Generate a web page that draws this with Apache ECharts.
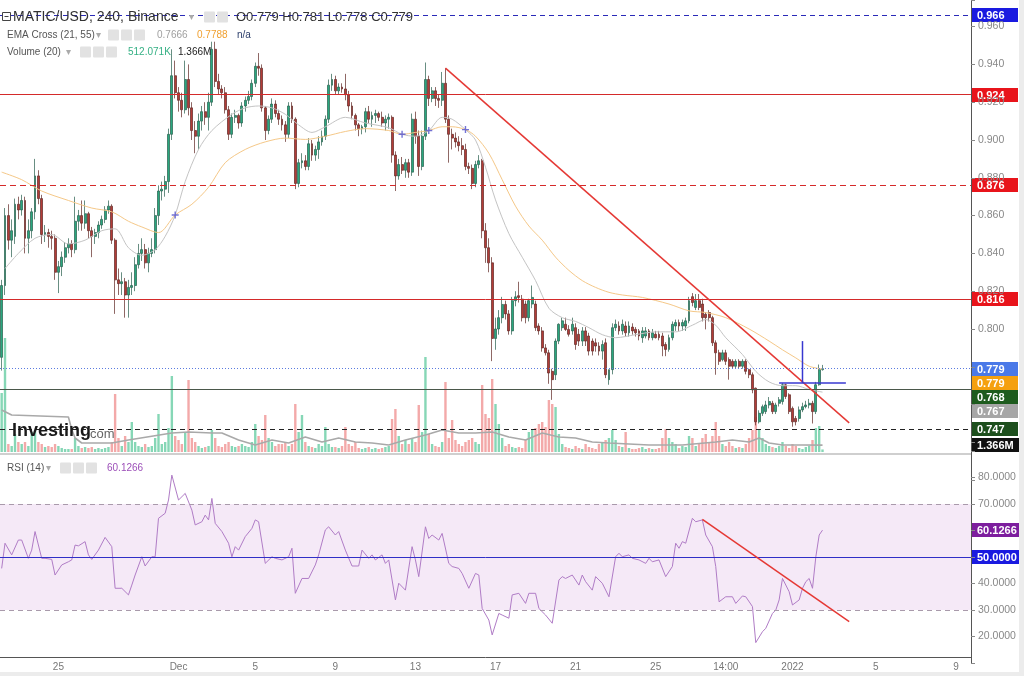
<!DOCTYPE html>
<html><head><meta charset="utf-8">
<script src="https://cdn.jsdelivr.net/npm/echarts@6/dist/echarts.min.js"></script>
<style>html,body{margin:0;padding:0;background:#fff}#c{width:1024px;height:676px}</style>
</head><body><div id="c"></div>
<script>
// ---------- DATA ----------
// 4h candles, [open, high, low, close]
const candleOHLC = [
[.785,.826,.778,.823],[.823,.864,.818,.860],[.860,.866,.842,.847],[.847,.858,.838,.852],[.849,.869,.845,.866],
[.866,.870,.858,.863],[.863,.871,.860,.868],[.868,.870,.840,.848],[.848,.858,.840,.852],[.852,.864,.848,.862],
[.862,.890,.858,.881],[.881,.884,.866,.869],[.869,.871,.845,.850],[.850,.855,.846,.851],[.851,.853,.843,.849],
[.849,.852,.842,.848],[.848,.850,.826,.830],[.830,.836,.819,.833],[.833,.841,.828,.838],[.838,.846,.835,.843],
[.843,.848,.840,.845],[.845,.847,.838,.842],[.842,.870,.840,.857],[.857,.863,.852,.860],[.860,.868,.852,.856],
[.856,.868,.853,.861],[.861,.862,.848,.852],[.852,.854,.838,.849],[.849,.853,.845,.851],[.851,.857,.848,.855],
[.855,.860,.853,.858],[.858,.865,.856,.863],[.863,.868,.861,.865],[.865,.866,.845,.847],[.847,.848,.808,.826],
[.826,.832,.818,.824],[.824,.830,.818,.825],[.825,.827,.806,.818],[.818,.826,.806,.822],[.822,.830,.818,.823],
[.823,.838,.820,.834],[.834,.845,.832,.840],[.840,.848,.836,.842],[.842,.845,.832,.835],[.835,.843,.830,.840],
[.840,.848,.838,.842],[.842,.864,.840,.860],[.860,.876,.855,.873],[.873,.878,.868,.874],[.874,.881,.870,.878],
[.878,.906,.872,.903],[.903,.948,.900,.934],[.934,.942,.922,.925],[.925,.928,.915,.921],[.921,.925,.912,.916],
[.916,.942,.914,.932],[.932,.940,.913,.917],[.917,.920,.900,.905],[.905,.910,.893,.902],[.902,.914,.895,.910],
[.910,.918,.905,.915],[.915,.920,.908,.912],[.912,.925,.905,.920],[.920,.952,.918,.948],[.948,.952,.928,.931],
[.931,.935,.924,.927],[.927,.929,.922,.925],[.925,.928,.914,.916],[.916,.918,.900,.903],[.903,.914,.901,.912],
[.912,.916,.909,.913],[.913,.914,.906,.909],[.909,.920,.907,.918],[.918,.923,.915,.921],[.921,.926,.919,.923],
[.923,.932,.921,.930],[.930,.941,.928,.939],[.939,.946,.934,.938],[.938,.940,.915,.917],[.917,.918,.900,.905],
[.905,.913,.903,.911],[.911,.922,.909,.919],[.919,.921,.912,.914],[.914,.916,.908,.911],[.911,.913,.905,.908],
[.908,.910,.899,.903],[.903,.920,.901,.918],[.918,.920,.909,.911],[.911,.912,.874,.877],[.877,.890,.875,.888],
[.888,.893,.885,.889],[.889,.892,.884,.886],[.886,.901,.884,.898],[.898,.900,.889,.892],[.892,.897,.889,.895],
[.895,.902,.890,.899],[.899,.905,.897,.902],[.902,.913,.900,.911],[.911,.932,.909,.929],[.929,.935,.926,.932],
[.932,.934,.924,.926],[.926,.930,.924,.928],[.928,.930,.925,.927],[.927,.935,.921,.924],[.924,.926,.915,.918],
[.918,.920,.911,.913],[.913,.914,.905,.908],[.908,.909,.902,.906],[.906,.908,.903,.907],[.907,.917,.904,.915],
[.915,.918,.909,.911],[.911,.915,.907,.913],[.913,.916,.909,.914],[.914,.915,.910,.912],[.912,.915,.907,.909],
[.909,.913,.905,.911],[.911,.914,.906,.912],[.912,.913,.888,.892],[.892,.894,.873,.881],[.881,.890,.879,.887],
[.887,.891,.882,.884],[.884,.890,.880,.888],[.888,.890,.880,.883],[.883,.914,.881,.911],[.911,.915,.898,.902],
[.902,.905,.881,.886],[.886,.905,.884,.902],[.902,.941,.900,.932],[.932,.934,.918,.922],[.922,.928,.920,.926],
[.926,.928,.918,.922],[.922,.924,.917,.921],[.921,.936,.918,.930],[.930,.938,.909,.911],[.911,.913,.888,.903],
[.903,.906,.895,.901],[.901,.904,.896,.899],[.899,.902,.894,.897],[.897,.901,.892,.895],[.895,.898,.884,.886],
[.886,.888,.882,.885],[.885,.887,.874,.877],[.877,.889,.875,.887],[.887,.892,.885,.889],[.889,.890,.848,.852],
[.852,.856,.835,.843],[.843,.848,.830,.835],[.835,.838,.783,.795],[.795,.806,.789,.800],[.800,.810,.797,.806],
[.806,.817,.803,.813],[.813,.815,.805,.808],[.808,.810,.797,.799],[.799,.817,.797,.815],[.815,.820,.812,.817],
[.8176,.825,.814,.8167],[.8158,.818,.804,.806],[.8132,.815,.803,.806],[.806,.816,.804,.815],[.8132,.823,.811,.8167],
[.8132,.815,.799,.8007],[.8016,.803,.797,.799],[.799,.801,.788,.790],[.790,.792,.786,.7874],[.7874,.789,.771,.7767],
[.7776,.779,.7625,.7732],[.7758,.795,.773,.7936],[.7936,.803,.792,.8025],[.8007,.806,.799,.8043],[.8025,.806,.799,.7998],
[.7998,.802,.796,.7972],[.7990,.806,.797,.8025],[.8007,.803,.789,.7918],[.7972,.800,.791,.7936],[.7936,.801,.791,.799],
[.799,.801,.791,.7936],[.7963,.798,.786,.7883],[.7936,.795,.786,.7883],[.7927,.795,.788,.791],[.791,.793,.786,.7883],
[.7883,.794,.7838,.7918],[.7927,.795,.774,.7758],[.7732,.7785,.7705,.7785],[.7785,.803,.776,.8007],[.8007,.805,.799,.8025],
[.8016,.804,.797,.799],[.799,.805,.797,.8025],[.8016,.804,.796,.798],[.798,.804,.796,.8016],[.801,.803,.797,.799],
[.7998,.801,.796,.798],[.799,.800,.794,.7963],[.7954,.801,.7927,.799],[.7963,.801,.795,.799],[.799,.800,.794,.7954],
[.7954,.800,.794,.798],[.7972,.799,.795,.7954],[.7972,.799,.794,.7954],[.7963,.798,.7856,.791],[.7918,.793,.7856,.7892],
[.7892,.797,.788,.7954],[.7954,.804,.794,.8025],[.8016,.805,.799,.8034],[.8034,.805,.799,.8016],[.8016,.805,.799,.8034],
[.8016,.806,.799,.8043],[.8043,.817,.803,.815],[.8171,.819,.812,.814],[.8114,.8185,.810,.815],[.815,.8185,.810,.8114],
[.8132,.816,.804,.806],[.8078,.809,.7998,.806],[.8087,.810,.804,.806],[.806,.807,.791,.7927],[.7927,.794,.7758,.7874],
[.7874,.789,.781,.7829],[.7838,.789,.7829,.7874],[.7874,.789,.781,.7829],[.7838,.785,.7732,.7803],[.7829,.784,.779,.7803],
[.7803,.784,.779,.7829],[.7829,.784,.779,.7803],[.7803,.784,.779,.7829],[.7829,.784,.776,.7776],[.7785,.779,.774,.7758],
[.7758,.777,.766,.7678],[.7687,.769,.749,.7509],[.7509,.757,.750,.7554],[.7554,.760,.754,.7589],[.7563,.762,.755,.7598],
[.7598,.764,.758,.7616],[.7607,.762,.755,.7563],[.7563,.761,.755,.7598],[.7607,.764,.759,.7625],[.7616,.7714,.760,.7705],
[.7705,.771,.763,.7643],[.7652,.766,.755,.7563],[.758,.759,.7483,.7509],[.7527,.754,.749,.7509],[.7527,.759,.751,.7572],
[.7572,.761,.756,.7589],[.7589,.762,.758,.7598],[.7598,.763,.758,.7607],[.7607,.762,.750,.7563],[.7563,.772,.755,.7705],
[.7705,.7812,.770,.7785],[.7785,.781,.778,.779]
];
// volume per candle (millions)
const volumes = [
11.8,22.8,1.6,1.2,3.6,2.0,1.6,2.0,1.2,4.0, 4.4,2.0,1.6,1.0,1.2,1.0,1.6,1.2,0.8,0.6,
0.6,0.6,2.8,1.2,0.8,1.0,0.8,1.0,0.6,0.8, 0.6,0.8,1.0,2.0,11.6,2.8,1.2,3.2,2.0,6.0,
2.0,1.2,1.0,1.6,1.0,1.2,2.8,7.6,1.6,2.0, 4.8,15.2,3.2,2.4,1.6,4.0,14.4,2.8,2.0,1.2,
0.8,1.0,1.2,4.4,2.8,1.2,1.0,1.6,2.0,1.2, 1.0,1.2,1.6,1.2,1.0,2.0,5.6,3.2,2.4,7.4,
2.8,2.0,1.2,1.6,1.6,2.0,1.2,1.6,9.6,4.0, 7.4,2.0,1.2,1.0,0.8,1.6,1.2,5.0,1.6,1.0,
1.0,0.8,1.2,5.0,1.6,1.2,2.0,0.8,0.6,0.8, 1.0,0.6,0.8,0.6,0.8,1.0,1.2,6.6,8.6,3.2,
1.6,2.4,1.6,2.8,2.0,9.4,4.0,19.0,3.6,1.6, 1.2,1.0,2.0,14.0,2.8,6.4,2.4,1.6,1.2,2.0,
2.4,2.8,2.0,1.6,13.4,7.6,6.8,14.6,9.6,5.6, 2.8,1.2,1.6,1.0,0.8,1.0,0.8,2.4,4.0,4.4,
4.8,5.6,6.0,5.0,10.4,9.6,9.0,3.6,1.6,1.0, 0.8,0.6,1.2,0.8,0.6,1.6,1.0,0.8,0.6,1.6,
2.0,2.4,2.8,4.4,2.4,1.2,1.0,4.0,0.8,0.6, 0.6,0.8,1.0,0.6,0.8,0.6,0.6,0.8,2.8,4.6,
2.8,2.0,1.6,0.8,1.2,1.0,3.2,2.8,1.2,1.6, 2.8,3.6,2.0,3.2,6.0,3.2,1.6,1.2,2.0,1.2,
0.8,1.0,0.8,1.6,2.8,4.4,7.0,4.4,2.8,1.6, 1.2,1.0,0.8,1.2,2.0,1.2,0.8,1.6,1.2,0.8,
0.6,1.0,1.2,2.4,4.8,5.2,0.51
];
// EMA(21) and EMA(55), read at sample candles: [candle index, price]
const ema21Pts = [[1,.832],[5,.840],[10,.848],[15,.850],[20,.845],[25,.847],[30,.852],[34,.853],[38,.843],[42,.839],[46,.842],[49,.849],[52,.8603],[55,.878],[59,.895],[63,.905],[69,.9136],[73,.917],[77,.918],[81,.917],[85,.9136],[89,.908],[93,.904],[97,.907],[103,.912],[109,.909],[116,.9065],[120,.903],[124,.902],[128,.905],[132,.912],[135,.911],[139,.9055],[142,.900],[145,.8856],[148,.8683],[152,.8505],[156,.838],[160,.8256],[164,.811],[168,.806],[172,.804],[176,.8007],[180,.797],[184,.7954],[190,.797],[196,.7985],[202,.7985],[207,.802],[211,.805],[214,.802],[217,.7954],[222,.7865],[226,.7776],[230,.772],[234,.770],[238,.770],[242,.768],[246,.7666]];
const ema55Pts = [[0,.883],[6,.879],[12,.873],[20,.868],[27,.864],[33,.862],[38,.857],[42,.854],[47,.851],[52,.8603],[57,.866],[62,.875],[67,.888],[73,.895],[79,.899],[85,.901],[91,.9003],[97,.902],[103,.9045],[109,.906],[116,.905],[120,.903],[124,.904],[128,.905],[132,.907],[135,.907],[139,.9055],[142,.902],[146,.893],[150,.879],[154,.865],[158,.8545],[162,.847],[166,.838],[170,.831],[174,.8256],[178,.822],[182,.8194],[186,.818],[192,.8167],[200,.8132],[206,.8096],[211,.8087],[217,.806],[224,.800],[230,.7936],[234,.789],[238,.7847],[242,.7803],[246,.7788]];
const emaCrossPts = [[52,.8603],[120,.903],[128,.905],[139,.9055]];
// Volume MA(20), millions
const volMAPts = [[0,8.4],[3,7.4],[20,7.0],[21,4.5],[22,2.8],[24,1.8],[33,1.8],[38,2.4],[51,3.8],[56,4.0],[63,3.8],[66,3.8],[71,2.4],[76,1.4],[81,2.4],[86,1.8],[91,3.0],[96,2.0],[101,2.8],[106,2.0],[111,1.8],[116,1.4],[121,2.4],[127,3.4],[132,4.4],[137,3.8],[142,3.8],[147,4.0],[152,3.0],[157,2.4],[162,3.8],[167,3.0],[172,2.8],[177,2.0],[182,1.8],[194,1.4],[204,1.4],[214,2.0],[219,2.4],[224,2.0],[227,2.8],[230,1.8],[234,1.4],[240,1.4],[246,1.366]];
// RSI(14): [candle index, value]
const rsiPts = [[0,45.7],[1,55.2],[3,50.8],[5,56.4],[6,56.4],[8,49.5],[9,52.6],[10,59.6],[12,49.5],[13,49.5],[15,49.1],[16,43.2],[18,47.0],[20,48.2],[21,48.9],[22,54.5],[23,54.2],[25,55.8],[26,50.8],[27,49.1],[29,52.6],[31,57.4],[33,53.9],[34,38.2],[36,38.2],[38,35.7],[39,39.4],[40,43.2],[42,50.1],[43,46.6],[45,50.1],[46,50.1],[47,64.6],[49,66.5],[50,71.5],[51,80.9],[53,71.5],[55,74.0],[57,67.7],[58,62.1],[60,63.3],[61,65.8],[62,64.0],[63,72.1],[64,62.7],[66,59.6],[68,55.2],[69,50.1],[70,53.9],[71,52.6],[73,57.7],[75,60.8],[76,64.0],[77,63.3],[79,47.6],[81,50.1],[82,49.5],[84,48.9],[86,50.1],[87,53.3],[88,36.3],[90,41.9],[92,41.9],[94,47.0],[95,50.8],[97,60.2],[98,61.4],[100,58.3],[101,59.6],[103,52.6],[105,46.6],[107,46.6],[108,52.6],[110,49.5],[111,50.8],[112,48.9],[114,50.8],[115,47.6],[116,48.9],[118,33.8],[119,40.1],[121,37.5],[123,53.9],[124,48.9],[125,42.6],[127,61.4],[128,57.0],[129,58.3],[131,56.4],[132,58.9],[134,47.6],[135,46.4],[137,45.7],[138,43.8],[140,38.2],[142,43.8],[143,43.2],[144,30.6],[146,26.2],[147,20.6],[149,28.7],[150,28.1],[152,26.9],[153,35.7],[155,36.3],[157,32.5],[158,36.3],[160,36.3],[161,30.6],[163,28.1],[165,25.0],[167,41.3],[168,42.6],[169,41.9],[171,43.2],[173,39.4],[174,43.2],[175,40.7],[177,37.5],[178,42.6],[180,40.1],[182,35.0],[184,50.1],[185,51.4],[186,50.1],[188,50.8],[189,49.5],[191,48.9],[193,47.6],[194,49.5],[195,48.2],[197,48.9],[199,42.6],[201,46.4],[202,55.2],[203,53.3],[204,55.8],[205,55.2],[207,64.6],[208,63.3],[210,64.0],[211,58.3],[213,53.9],[214,46.4],[215,33.1],[217,35.0],[219,35.0],[220,32.5],[222,35.3],[223,35.0],[225,31.3],[226,17.7],[228,21.8],[229,23.1],[231,28.7],[232,30.0],[233,33.8],[234,41.9],[236,36.9],[237,31.9],[239,33.8],[240,38.2],[241,40.7],[242,41.9],[243,38.2],[244,50.1],[245,58.3],[246,60.1266]];
// drawings
const trendMain = [[133,.938],[254,.7503]];
const trendRSI = [[210,64.2],[254,25.6]];
const blueVert = [[240,.7714],[240,.7936]];
const blueHoriz = [[233,.7714],[253,.7714]];
// horizontal levels
const levelBlue = 0.966, levelRed1 = 0.924, levelRedDash = 0.876, levelRed2 = 0.816;
const lastPrice = 0.779, levelGreen = 0.768, levelBlack = 0.747;
const ema21Last = 0.7666, ema55Last = 0.7788, volMALast = 1.366, rsiLast = 60.1266;
// x-axis tick labels
const tickIdx = [17,53,76,100,124,148,172,196,217,237,262,286];
const tickText = ['25','Dec','5','9','13','17','21','25','14:00','2022','5','9'];
const nCats = 291;
const startMs = Date.UTC(2021,10,22,4);
const categories = Array.from({length:nCats},(_,i)=>new Date(startMs+i*4*3600e3).toISOString().slice(0,13));

// ---------- CHART ----------
const FONT = 'Liberation Sans, Arial, sans-serif';
const chart = echarts.init(document.getElementById('c'));
const hl = (v,color,type,w) => ({yAxis:v, lineStyle:{color, type, width:w||1}});
const tickFn = i => tickIdx.indexOf(i) >= 0;

const option = {
  animation:false, backgroundColor:'#fff',
  grid:[
    {left:0, top:0, width:971, height:480.2},
    {left:0, top:252, width:971, height:200},
    {left:0, top:451, width:971, height:212}
  ],
  xAxis:[
    {type:'category', gridIndex:0, data:categories, show:false},
    {type:'category', gridIndex:1, data:categories, show:false},
    {type:'category', gridIndex:2, data:categories, offset:-6,
      axisLine:{lineStyle:{color:'#555'}},
      axisTick:{interval:tickFn, alignWithLabel:true, length:4, lineStyle:{color:'#777'}},
      axisLabel:{interval:tickFn, formatter:(v,i)=>tickText[tickIdx.indexOf(i)], color:'#777', fontSize:10, margin:5, fontFamily:FONT},
      splitLine:{show:false}}
  ],
  yAxis:[
    {type:'value', gridIndex:0, position:'right', min:0.72, max:0.97407, interval:0.02,
      axisLine:{show:true, lineStyle:{color:'#555'}}, axisTick:{show:true, length:4, lineStyle:{color:'#888'}},
      splitLine:{show:false},
      axisLabel:{formatter:v=>(v>0.79 && v<0.965)?v.toFixed(3):'', color:'#888', fontSize:10.5, margin:7, fontFamily:FONT}},
    {type:'value', gridIndex:1, min:0, max:40, show:false},
    {type:'value', gridIndex:2, position:'right', min:10, max:90, interval:10,
      axisLine:{show:true, lineStyle:{color:'#555'}}, axisTick:{show:true, length:4, lineStyle:{color:'#888'}},
      splitLine:{show:false},
      axisLabel:{formatter:v=>{const r=Math.round(v);return (r>=20&&r<=80&&r!==50&&r!==60)?r.toFixed(4):'';}, color:'#888', fontSize:10.5, margin:7, fontFamily:FONT}}
  ],
  series:[
    {type:'bar', xAxisIndex:1, yAxisIndex:1, barWidth:2.4, z:1,
      data:volumes.map((v,i)=>({value:v, itemStyle:{color: candleOHLC[i][3]>=candleOHLC[i][0] ? '#86d7b6' : '#f3a9a9'}}))},
    {type:'line', xAxisIndex:1, yAxisIndex:1, data:volMAPts, symbol:'none', z:2,
      lineStyle:{color:'#a9a9a9', width:1.6}},
    {type:'candlestick', xAxisIndex:0, yAxisIndex:0, barWidth:2.4, z:3,
      data:candleOHLC.map(d=>[d[0],d[3],d[2],d[1]]),
      itemStyle:{color:'#2aa77f', color0:'#b23c38', borderColor:'#275d4c', borderColor0:'#5f2623', borderWidth:0.7},
      markLine:{silent:true, symbol:'none', precision:4, label:{show:false}, animation:false,
        data:[
          hl(levelBlue,'#2a2ab8',[5,4]),
          hl(levelRed1,'#d42a2a','solid'),
          hl(levelRedDash,'#d42a2a',[6,4]),
          hl(levelRed2,'#d42a2a','solid'),
          hl(lastPrice,'#5b7be0',[1,2]),
          hl(levelGreen,'#4a574a','solid',1.2),
          hl(levelBlack,'#222',[5,4])
        ]}},
    {type:'line', xAxisIndex:0, yAxisIndex:0, data:ema21Pts, symbol:'none', smooth:0.3, z:4,
      lineStyle:{color:'#c4c4c4', width:1}},
    {type:'line', xAxisIndex:0, yAxisIndex:0, data:ema55Pts, symbol:'none', smooth:0.3, z:4,
      lineStyle:{color:'#f5c888', width:1}},
    {type:'scatter', xAxisIndex:0, yAxisIndex:0, data:emaCrossPts, z:6, symbolSize:7,
      symbol:'path://M4,0L6,0L6,4L10,4L10,6L6,6L6,10L4,10L4,6L0,6L0,4L4,4Z',
      itemStyle:{color:'#5a5ad0', opacity:0.85}},
    {type:'line', xAxisIndex:0, yAxisIndex:0, data:trendMain, symbol:'none', z:5,
      lineStyle:{color:'#e53935', width:1.5}},
    {type:'line', xAxisIndex:0, yAxisIndex:0, data:blueVert, symbol:'none', z:5,
      lineStyle:{color:'#3838d0', width:1.5}},
    {type:'line', xAxisIndex:0, yAxisIndex:0, data:blueHoriz, symbol:'none', z:5,
      lineStyle:{color:'#3838d0', width:1.5}},
    {type:'line', xAxisIndex:2, yAxisIndex:2, data:rsiPts, symbol:'none', z:4,
      lineStyle:{color:'#b07cc6', width:1},
      markArea:{silent:true, itemStyle:{color:'rgba(156,39,176,0.1)'}, data:[[{yAxis:30},{yAxis:70}]]},
      markLine:{silent:true, symbol:'none', precision:4, label:{show:false},
        data:[hl(70,'#a99aab',[5,4]), hl(30,'#a99aab',[5,4]), hl(50,'#2f2fc7','solid')]}},
    {type:'line', xAxisIndex:2, yAxisIndex:2, data:trendRSI, symbol:'none', z:5,
      lineStyle:{color:'#e53935', width:1.5}}
  ]
};
chart.setOption(option);

// ---------- ANNOTATIONS ----------
const py = v => chart.convertToPixel({yAxisIndex:0}, v);
const vy = v => chart.convertToPixel({yAxisIndex:1}, v);
const ry = v => chart.convertToPixel({yAxisIndex:2}, v);
function tag(text, y, bg, w){
  return {type:'group', x:972, y:Math.round(y-7), z:100, children:[
    {type:'rect', shape:{x:0,y:0,width:w||46,height:14}, style:{fill:bg}},
    {type:'text', x:5, y:7.5, style:{text, fill:'#fff', font:'bold 11px '+FONT, verticalAlign:'middle'}}
  ]};
}
const stackTags = [
  {t:lastPrice.toFixed(3), y:py(lastPrice), bg:'#4a79e8'},
  {t:ema55Last.toFixed(3), y:py(ema55Last), bg:'#f5a00f'},
  {t:levelGreen.toFixed(3), y:py(levelGreen), bg:'#1d5b1d'},
  {t:ema21Last.toFixed(3), y:py(ema21Last), bg:'#a6a6a6'},
  {t:levelBlack.toFixed(3), y:py(levelBlack), bg:'#1d4f1d'},
  {t:volMALast.toFixed(3)+'M', y:vy(volMALast), bg:'#111', w:47}
];
let prev = -1e9;
const graphics = [];
stackTags.forEach(s=>{ const y = Math.max(s.y, prev+14); prev = y; graphics.push(tag(s.t, y, s.bg, s.w)); });
graphics.push(tag(levelBlue.toFixed(3), py(levelBlue), '#1a1ae0'));
graphics.push(tag(levelRed1.toFixed(3), py(levelRed1), '#e8141b'));
graphics.push(tag(levelRedDash.toFixed(3), py(levelRedDash), '#e8141b'));
graphics.push(tag(levelRed2.toFixed(3), py(levelRed2), '#e8141b'));
graphics.push(tag(rsiLast.toFixed(4), ry(rsiLast), '#7d1e9e', 47));
graphics.push(tag((50).toFixed(4), ry(50), '#1a1ae0', 47));

const txt = (x,y,text,font,fill) => ({type:'text', x, y, z:100, style:{text, font:font+' '+FONT, fill, verticalAlign:'middle'}});
const icon = (x,y) => ({type:'rect', z:100, shape:{x, y:y-5.5, width:11, height:11, r:1}, style:{fill:'#e2e2e2'}});
graphics.push(
  {type:'rect', z:100, shape:{x:2.5,y:12.5,width:8,height:8}, style:{fill:'#fff', stroke:'#444', lineWidth:1}},
  {type:'line', z:100, shape:{x1:4.5,y1:16.5,x2:8.5,y2:16.5}, style:{stroke:'#444', lineWidth:1}},
  txt(13,17,'MATIC/USD, 240, Binance','14px','#333'),
  txt(189,17,'▾','10px','#aaa'), icon(204,17), icon(217,17),
  txt(236,17,'O0.779 H0.781 L0.778 C0.779','13px','#333'),
  txt(7,35,'EMA Cross (21, 55)','10px','#555'), txt(96,35,'▾','10px','#aaa'),
  icon(108,35), icon(121,35), icon(134,35),
  txt(157,35,'0.7666','10px','#a0a0a0'), txt(197,35,'0.7788','10px','#f0a030'), txt(237,35,'n/a','10px','#2c3e6b'),
  txt(7,52,'Volume (20)','10px','#555'), txt(66,52,'▾','10px','#aaa'),
  icon(80,52), icon(93,52), icon(106,52),
  txt(128,52,'512.071K','10px','#35b084'), txt(178,52,'1.366M','10px','#222'),
  txt(7,468,'RSI (14)','10px','#555'), txt(46,468,'▾','10px','#aaa'),
  icon(60,468), icon(73,468), icon(86,468),
  txt(107,468,'60.1266','10px','#9c4fb8'),
  txt(12,431,'Investing','bold 18px','#1a1a1a'),
  txt(90,434,'com','13px','#666'),
  {type:'line', z:90, shape:{x1:0,y1:454,x2:971,y2:454}, style:{stroke:'#cfcfcf', lineWidth:2}},
  {type:'rect', z:90, shape:{x:0,y:672,width:1024,height:4}, style:{fill:'#ececec'}},
  {type:'rect', z:90, shape:{x:1019,y:0,width:5,height:676}, style:{fill:'#ececec'}}
);
chart.setOption({graphic:graphics});
</script></body></html>
